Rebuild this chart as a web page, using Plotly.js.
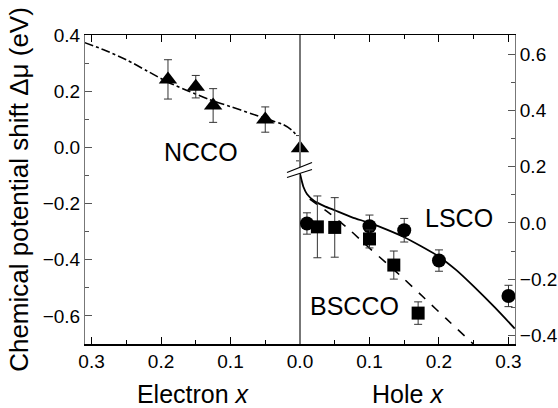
<!DOCTYPE html>
<html>
<head>
<meta charset="utf-8">
<script src="https://cdn.plot.ly/plotly-3.0.1.min.js"></script>
<style>html,body{margin:0;padding:0;background:#fff}</style>
</head>
<body>
<div id="chart" style="width:558px;height:408px"></div>
<script>
// NCCO (electron doped) - left axes
var nccoX = [0.19, 0.15, 0.125, 0.05, 0.0];
var nccoY = [0.242, 0.216, 0.149, 0.099, -0.003];
var nccoErr = [0.07, 0.04, 0.06, 0.045, 0.045];
var nccoCurveX = [0.31, 0.28, 0.25, 0.22, 0.19, 0.16, 0.13, 0.10, 0.07, 0.043, 0.025, 0.012, 0.004];
var nccoCurveY = [0.373, 0.345, 0.312, 0.272, 0.232, 0.2, 0.17, 0.145, 0.12, 0.097, 0.082, 0.062, 0.04];

// LSCO (hole doped) - right axes
var lscoX = [0.01, 0.1, 0.15, 0.2, 0.3];
var lscoY = [-0.002, -0.012, -0.026, -0.134, -0.26];
var lscoErr = [0.038, 0.04, 0.042, 0.038, 0.038];
var lscoCurveX = [0.0, 0.002, 0.005, 0.01, 0.02, 0.035, 0.05, 0.075, 0.1, 0.125, 0.15, 0.175, 0.2, 0.225, 0.25, 0.28, 0.309];
var lscoCurveY = [0.175, 0.155, 0.128, 0.103, 0.079, 0.06, 0.045, 0.02, 0.0, -0.024, -0.051, -0.084, -0.12, -0.168, -0.226, -0.3, -0.376];

// BSCCO (hole doped) - right axes
var bsccoX = [0.025, 0.05, 0.1, 0.135, 0.17];
var bsccoY = [-0.014, -0.016, -0.057, -0.15, -0.321];
var bsccoErr = [0.11, 0.106, 0.032, 0.05, 0.04];
var bsccoCurveX = [0.014, 0.043, 0.072, 0.1, 0.125, 0.15, 0.18, 0.21, 0.249];
var bsccoCurveY = [0.085, 0.033, -0.026, -0.09, -0.144, -0.2, -0.27, -0.34, -0.43];

// tick labels
var leftXTicks = [0.1, 0.2, 0.3];
var leftXText = ['0.1', '0.2', '0.3'];
var rightXTicks = [0.0, 0.1, 0.2, 0.3];
var rightXText = ['0.0', '0.1', '0.2', '0.3'];

var FONT = 'Liberation Sans, Arial, Helvetica, sans-serif';
var errStyle = function (arr) {
  return {type: 'data', array: arr, visible: true, color: '#333', thickness: 1, width: 4};
};

var traces = [
  {x: nccoCurveX, y: nccoCurveY, xaxis: 'x', yaxis: 'y', mode: 'lines',
   line: {color: '#000', width: 1.6, dash: 'dashdot', shape: 'spline', smoothing: 0.8}, hoverinfo: 'skip'},
  {x: nccoX, y: nccoY, xaxis: 'x', yaxis: 'y', mode: 'markers', name: 'NCCO', cliponaxis: false,
   marker: {symbol: 'triangle-up', size: 16, color: '#000'}, error_y: errStyle(nccoErr)},
  {x: lscoCurveX, y: lscoCurveY, xaxis: 'x2', yaxis: 'y2', mode: 'lines',
   line: {color: '#000', width: 1.8, shape: 'spline', smoothing: 0.6}, hoverinfo: 'skip'},
  {x: bsccoCurveX, y: bsccoCurveY, xaxis: 'x2', yaxis: 'y2', mode: 'lines',
   line: {color: '#000', width: 1.6, dash: 'dash', shape: 'spline', smoothing: 0.6}, hoverinfo: 'skip'},
  {x: lscoX, y: lscoY, xaxis: 'x2', yaxis: 'y2', mode: 'markers', name: 'LSCO', cliponaxis: false,
   marker: {symbol: 'circle', size: 14, color: '#000'}, error_y: errStyle(lscoErr)},
  {x: bsccoX, y: bsccoY, xaxis: 'x2', yaxis: 'y2', mode: 'markers', name: 'BSCCO', cliponaxis: false,
   marker: {symbol: 'square', size: 13, color: '#000'}, error_y: errStyle(bsccoErr)}
];

// pixel -> paper helpers for decorations (plot area 85..515 x 35..344)
function px(p) { return (p - 85) / 430; }
function py(p) { return (344 - p) / 309; }

var shapes = [
  // black part of the x=0 divider above the break (drawn beneath the markers)
  {type: 'line', xref: 'paper', yref: 'paper', x0: 0.5, x1: 0.5, y0: 1, y1: py(167.3),
   line: {color: '#000', width: 1.6}, layer: 'below'},
  // white gap of the axis break
  {type: 'path', xref: 'paper', yref: 'paper', layer: 'above',
   path: 'M' + px(287) + ',' + py(172.5) + ' L' + px(312) + ',' + py(162.5) +
         ' L' + px(312) + ',' + py(169.5) + ' L' + px(287) + ',' + py(177.5) + ' Z',
   fillcolor: '#fff', line: {width: 0}},
  {type: 'line', xref: 'paper', yref: 'paper', layer: 'above',
   x0: px(287), y0: py(172.5), x1: px(312), y1: py(162.5), line: {color: '#000', width: 1.3}},
  {type: 'line', xref: 'paper', yref: 'paper', layer: 'above',
   x0: px(287), y0: py(177.5), x1: px(312), y1: py(169.5), line: {color: '#000', width: 1.3}}
];

var axisCommon = {
  showgrid: false, zeroline: false, showline: true, ticks: 'inside',
  tickfont: {family: FONT, size: 19, color: '#000'}
};

var layout = {
  width: 558, height: 408,
  margin: {l: 85, r: 43, t: 35, b: 64},
  paper_bgcolor: '#fff', plot_bgcolor: '#fff',
  showlegend: false,
  font: {family: FONT, color: '#000'},
  xaxis: Object.assign({}, axisCommon, {
    domain: [0, 0.5], range: [0.3094, 0], anchor: 'y',
    tickmode: 'array', tickvals: leftXTicks, ticktext: leftXText,
    linecolor: '#000', linewidth: 1.5, tickcolor: '#000', ticklen: 7, mirror: 'ticks',
    minor: {dtick: 0.05, tick0: 0, ticks: 'inside', ticklen: 4, tickcolor: '#000'},
    title: {text: 'Electron <i>x</i>', font: {family: FONT, size: 25}, standoff: 14}
  }),
  xaxis2: Object.assign({}, axisCommon, {
    domain: [0.5, 1], range: [0, 0.3094], anchor: 'y2',
    tickmode: 'array', tickvals: rightXTicks, ticktext: rightXText,
    linecolor: '#000', linewidth: 1.5, tickcolor: '#000', ticklen: 7, mirror: 'ticks',
    minor: {dtick: 0.05, tick0: 0, ticks: 'inside', ticklen: 4, tickcolor: '#000'},
    title: {text: 'Hole <i>x</i>', font: {family: FONT, size: 25}, standoff: 14}
  }),
  yaxis: Object.assign({}, axisCommon, {
    range: [-0.7, 0.4], anchor: 'x', side: 'left', dtick: 0.2, tick0: 0,
    tickformat: '.1f', linecolor: '#777', linewidth: 1, tickcolor: '#555', ticklen: 7,
    mirror: true,
    minor: {dtick: 0.1, tick0: 0, ticks: 'inside', ticklen: 4, tickcolor: '#555'},
    title: {text: 'Chemical potential shift \u0394\u03bc (eV)', font: {family: FONT, size: 26}, standoff: 6}
  }),
  yaxis2: Object.assign({}, axisCommon, {
    range: [-0.431, 0.669], anchor: 'x2', side: 'right', dtick: 0.2, tick0: 0,
    tickformat: '.1f', linecolor: '#777', linewidth: 1, tickcolor: '#555', ticklen: 7,
    mirror: true,
    minor: {dtick: 0.1, tick0: 0, ticks: 'inside', ticklen: 4, tickcolor: '#555'}
  }),
  shapes: shapes,
  annotations: [
    {text: 'NCCO', xref: 'x', yref: 'y', x: 0.142, y: -0.015, showarrow: false,
     font: {family: FONT, size: 25, color: '#000'}},
    {text: 'LSCO', xref: 'x2', yref: 'y2', x: 0.229, y: 0.016, showarrow: false,
     font: {family: FONT, size: 25, color: '#000'}},
    {text: 'BSCCO', xref: 'x2', yref: 'y2', x: 0.0784, y: -0.296, showarrow: false,
     font: {family: FONT, size: 25, color: '#000'}}
  ]
};

Plotly.newPlot('chart', traces, layout, {displayModeBar: false, staticPlot: true});
</script>
</body>
</html>
